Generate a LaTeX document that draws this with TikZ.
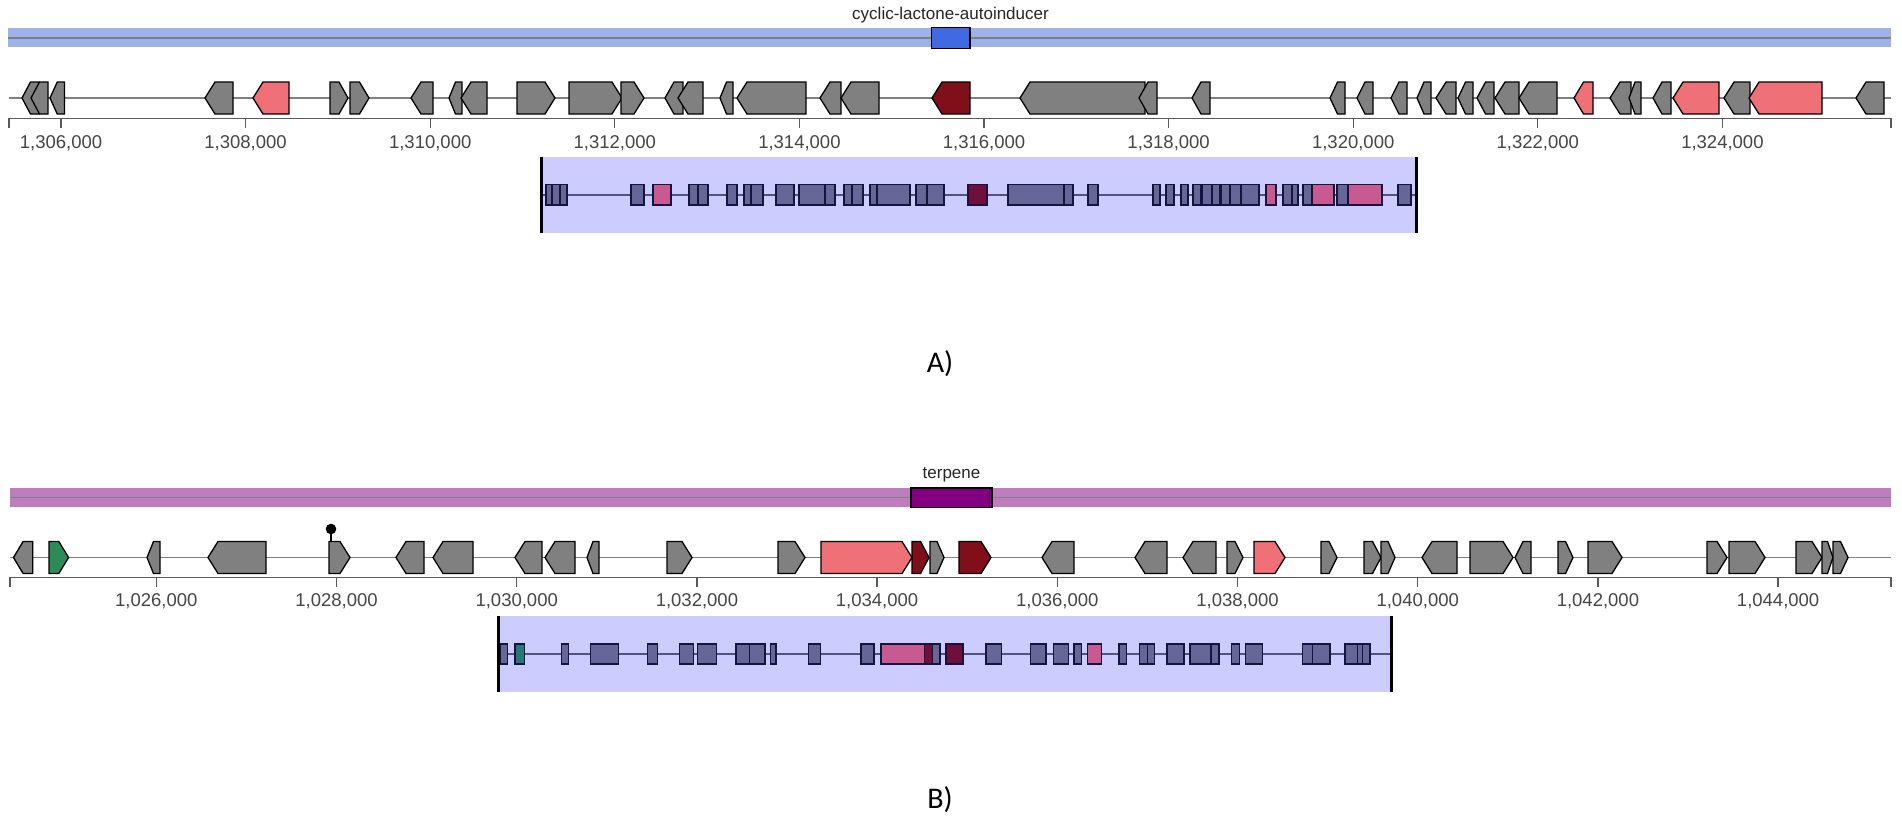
\documentclass[tikz,border=0pt]{standalone}
\usepackage{fontspec}
\setmainfont{Liberation Sans}
\newfontfamily\panelfont{Carlito}
\definecolor{ggray}{RGB}{128,128,128}
\definecolor{gred}{RGB}{240,112,120}
\definecolor{gdark}{RGB}{128,15,25}
\definecolor{ggreen}{RGB}{46,139,87}
\definecolor{bandA}{RGB}{158,178,234}
\definecolor{boxA}{RGB}{65,105,225}
\definecolor{bandB}{RGB}{190,126,190}
\definecolor{boxB}{RGB}{128,0,128}
\definecolor{lav}{RGB}{204,204,255}
\definecolor{mini}{RGB}{102,102,153}
\definecolor{minipink}{RGB}{200,90,145}
\definecolor{minidark}{RGB}{110,15,60}
\definecolor{miniteal}{RGB}{40,120,120}
\definecolor{minibd}{RGB}{20,20,60}
\definecolor{axcol}{RGB}{90,90,90}
\definecolor{labcol}{RGB}{70,70,70}
\tikzset{
  gene/.style={draw=black,line width=1.3pt,line join=miter},
  trackline/.style={draw=ggray,line width=1.3pt},
  bandline/.style={draw=ggray,line width=1.8pt},
  axisline/.style={draw=axcol,line width=1.3pt},
  axlab/.style={font=\fontsize{18.5}{20}\selectfont,text=labcol,inner sep=0pt},
  reglab/.style={font=\fontsize{17}{19}\selectfont,text=black!85,inner sep=0pt},
  panellab/.style={font=\panelfont\fontsize{30}{34}\selectfont,inner sep=0pt},
  minibox/.style={draw=minibd,line width=1.2pt},
  miniline/.style={draw=mini!80!black,line width=1.3pt},
  edge/.style={draw=black,line width=2.7pt},
}
\begin{document}
\begin{tikzpicture}[x=1pt,y=-1pt]
\useasboundingbox[fill=white] (0,0) rectangle (1902,827);

% ================= PANEL A =================
% region band
\fill[bandA] (8,28.3) rectangle (1891,47.3);
\draw[bandline] (8,37.8) -- (1891,37.8);
\draw[draw=black,line width=1.3pt,fill=boxA] (931.5,27.7) rectangle (970,48.3);
\node[reglab] (labA) at (950.5,15) {cyclic-lactone-autoinducer};

% gene track
\draw[trackline] (9,98) -- (1891,98);
\foreach \s/\e/\d/\c in {
 22/39/L/ggray, 31/48/L/ggray, 50/64.5/L/ggray, 205/233/L/ggray, 253/289/L/gred,
 330/348/R/ggray, 350/369/R/ggray, 411/433/L/ggray, 449/462/L/ggray, 461/487/L/ggray,
 517/555/R/ggray, 569/622/R/ggray, 621/644/R/ggray, 665/683/L/ggray, 678/703/L/ggray,
 720/733/L/ggray, 737/806/L/ggray, 820/841/L/ggray, 841/879/L/ggray, 932/970/L/gdark,
 1020/1145/L/ggray, 1139/1157/L/ggray, 1192/1210/L/ggray, 1330/1345/L/ggray, 1357/1373/L/ggray,
 1391/1407/L/ggray, 1417/1431/L/ggray, 1436/1456/L/ggray, 1458/1473/L/ggray, 1477/1494/L/ggray,
 1495/1519/L/ggray, 1519/1557/L/ggray, 1574/1593/L/gred, 1610/1631/L/ggray, 1629/1641/L/ggray,
 1653/1671/L/ggray, 1673/1719/L/gred, 1724/1750/L/ggray, 1749/1822/L/gred, 1856/1884/L/ggray}{
  \pgfmathsetmacro\ghl{min(10,0.5*(\e-\s))}
  \if\d R
    \draw[gene,fill=\c] (\s,82) -- (\e-\ghl,82) -- (\e,98) -- (\e-\ghl,114) -- (\s,114) -- cycle;
  \else
    \draw[gene,fill=\c] (\e,82) -- (\s+\ghl,82) -- (\s,98) -- (\s+\ghl,114) -- (\e,114) -- cycle;
  \fi
}

% axis
\draw[axisline] (9,128.3) -- (9,118.3) -- (1891,118.3) -- (1891,128.3);
\foreach \x/\t [count=\k] in {61.0/{1,306,000}, 245.6/{1,308,000}, 430.2/{1,310,000}, 614.8/{1,312,000},
  799.4/{1,314,000}, 984.0/{1,316,000}, 1168.6/{1,318,000}, 1353.2/{1,320,000}, 1537.8/{1,322,000}, 1722.4/{1,324,000}}{
  \draw[axisline] (\x,118.3) -- (\x,128.3);
  \node[axlab] (ta\k) at (\x,143) {\t};
}

% cluster detail box
\fill[lav] (541.5,156.7) rectangle (1416.5,233);
\draw[miniline] (541.5,195) -- (1416.5,195);
\foreach \s/\e/\c in {
 546/552/mini, 552/560/mini, 560/567/mini, 631/644/mini, 653/671/minipink,
 689/698/mini, 698/708/mini, 727/737/mini, 744/753/mini, 751/763/mini,
 776/794/mini, 799/826/mini, 825/835/mini, 844/853/mini, 852/863/mini,
 870/877/mini, 877/910/mini, 916/927/mini, 927/944/mini, 968/987/minidark,
 1008/1065/mini, 1064/1073/mini, 1088/1098/mini, 1153/1160/mini, 1166/1174/mini,
 1181/1188/mini, 1193/1201/mini, 1202/1212/mini, 1212/1220/mini, 1221/1230/mini,
 1230/1241/mini, 1241/1259/mini, 1266/1276/minipink, 1283/1293/mini, 1292/1298/mini,
 1303/1312/mini, 1312/1334/minipink, 1337/1348/mini, 1348/1382/minipink, 1398/1411/mini}{
  \draw[minibox,fill=\c] (\s,184.5) rectangle (\e,205);
}
\draw[edge] (541.5,156.7) -- (541.5,233);
\draw[edge] (1416.5,156.7) -- (1416.5,233);

\node[panellab] (pA) at (940,364) {A)};

% ================= PANEL B =================
\fill[bandB] (10,487.7) rectangle (1891,507.3);
\draw[bandline] (10,497.5) -- (1891,497.5);
\draw[draw=black,line width=1.3pt,fill=boxB] (911,488) rectangle (992,507.3);
\node[reglab] (labB) at (951.5,475) {terpene};

\draw[trackline] (10,557.5) -- (1891,557.5);
% pin
\draw[draw=black,line width=1.5pt] (331,530) -- (331,541.5);
\fill[black] (331,529) ellipse (5.3 and 5.3);
\foreach \s/\e/\d/\c in {
 13.5/32.7/L/ggray, 49/68.6/R/ggreen, 147/160/L/ggray, 208/266/L/ggray, 329/350/R/ggray,
 396/424/L/ggray, 433/473/L/ggray, 515/542/L/ggray, 545/575/L/ggray, 587/599/L/ggray,
 667/692/R/ggray, 778/805/R/ggray, 821/912/R/gred, 912/929/R/gdark, 930/944/R/ggray,
 959/991/R/gdark, 1042/1074/L/ggray, 1135/1167/L/ggray, 1183/1216/L/ggray, 1227/1243/R/ggray,
 1254/1285/R/gred, 1321/1337/R/ggray, 1364/1381/R/ggray, 1381/1395/R/ggray, 1422/1457/L/ggray,
 1470/1513/R/ggray, 1515/1531/L/ggray, 1558/1573/R/ggray, 1588/1622/R/ggray, 1707/1727/R/ggray,
 1729/1765/R/ggray, 1796/1822/R/ggray, 1822/1833/R/ggray, 1833/1848/R/ggray}{
  \pgfmathsetmacro\ghl{min(10,0.5*(\e-\s))}
  \if\d R
    \draw[gene,fill=\c] (\s,541.5) -- (\e-\ghl,541.5) -- (\e,557.5) -- (\e-\ghl,573.5) -- (\s,573.5) -- cycle;
  \else
    \draw[gene,fill=\c] (\e,541.5) -- (\s+\ghl,541.5) -- (\s,557.5) -- (\s+\ghl,573.5) -- (\e,573.5) -- cycle;
  \fi
}

\draw[axisline] (10,587.3) -- (10,577.3) -- (1891,577.3) -- (1891,587.3);
\foreach \x/\t [count=\k] in {156.3/{1,026,000}, 336.5/{1,028,000}, 516.7/{1,030,000}, 696.9/{1,032,000},
  877.1/{1,034,000}, 1057.3/{1,036,000}, 1237.5/{1,038,000}, 1417.7/{1,040,000}, 1597.9/{1,042,000}, 1778.1/{1,044,000}}{
  \draw[axisline] (\x,577.3) -- (\x,587.3);
  \node[axlab] (tb\k) at (\x,601.7) {\t};
}

\fill[lav] (498.3,616) rectangle (1391.7,692.3);
\draw[miniline] (498.3,654) -- (1391.7,654);
\foreach \s/\e/\c in {
 500/507.7/mini, 515/524.3/miniteal, 561.7/568.3/mini, 590.7/618.3/mini, 647.7/657.7/mini,
 679.3/693.3/mini, 697.3/716.7/mini, 736/749.3/mini, 749.3/765/mini, 770.7/776/mini,
 808.3/820.7/mini, 861/874/mini, 881/924.3/minipink, 924.3/933.3/minidark, 932.7/940/mini,
 946/963/minidark, 986/1001.7/mini, 1030.3/1046/mini, 1053.3/1068.3/mini, 1074/1081.7/mini,
 1087.3/1101.7/minipink, 1119/1126.7/mini, 1139.3/1147.7/mini, 1147.7/1154.3/mini, 1167/1184/mini,
 1190/1211.7/mini, 1211/1219/mini, 1231.7/1239.3/mini, 1245.7/1262.3/mini, 1302.3/1312.3/mini,
 1312.3/1330/mini, 1345/1357.7/mini, 1357.7/1362.3/mini, 1362.3/1370/mini}{
  \draw[minibox,fill=\c] (\s,644) rectangle (\e,664);
}
\draw[edge] (498.3,616) -- (498.3,692.3);
\draw[edge] (1391.7,616) -- (1391.7,692.3);

\node[panellab] (pB) at (940,800) {B)};
\end{tikzpicture}
\end{document}
